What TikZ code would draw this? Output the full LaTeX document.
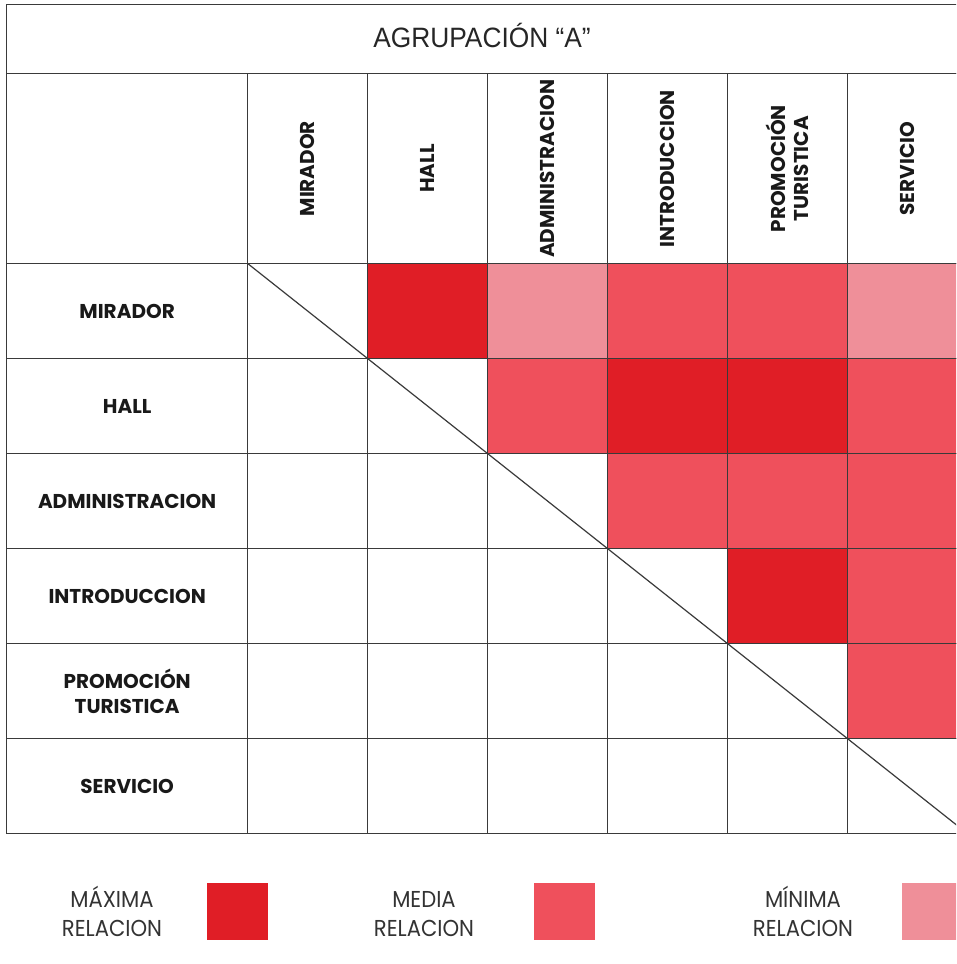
\documentclass[tikz,border=0pt]{standalone}
\usepackage{fontspec}
\newfontfamily\labfont{Poppins}
\newfontfamily\titlefont{Liberation Sans}[FakeStretch=0.94]
\newfontfamily\legfont{Poppins}[FakeStretch=0.92]
\definecolor{maxr}{HTML}{E01E26}
\definecolor{medr}{HTML}{EF505C}
\definecolor{minr}{HTML}{EF8F99}
\definecolor{gridc}{HTML}{3A3A3A}
\tikzset{
  cell/.style={draw=gridc, line width=1.3pt, minimum width=120pt, minimum height=95pt, inner sep=0pt, anchor=north west},
  rowlab/.style={draw=gridc, line width=1.3pt, minimum width=241pt, minimum height=95pt, inner sep=0pt, anchor=north west, font=\labfont\bfseries\fontsize{20}{25}\selectfont, align=center, text=black!90},
  collab/.style={draw=gridc, line width=1.3pt, minimum width=120pt, minimum height=190pt, inner sep=0pt, anchor=north west},
  coltext/.style={rotate=90, font=\labfont\bfseries\fontsize{20}{23}\selectfont, align=center, text=black!90},
  legtext/.style={font=\legfont\fontsize{23}{29}\selectfont, align=center, text=black!80},
  legsq/.style={minimum width=61pt, minimum height=57pt, inner sep=0pt, anchor=north west}
}
\begin{document}
\begin{tikzpicture}[x=1pt,y=-1pt]
\useasboundingbox (0,0) rectangle (956,964);
\fill[white] (0,0) rectangle (956,964);
\clip (0,0) rectangle (956,964);
% title
\node[draw=gridc, line width=1.3pt, minimum width=961pt, minimum height=69pt, inner sep=0pt, anchor=north west] (title) at (6,4) {};
\node[font=\titlefont\fontsize{28}{30}\selectfont, text=black!85] (titletext) at (482,35) {AGRUPACIÓN “A”};
% header corner
\node[draw=gridc, line width=1.3pt, minimum width=241pt, minimum height=190pt, inner sep=0pt, anchor=north west] (corner) at (6,73) {};
% column headers
\foreach \i/\t in {1/MIRADOR,2/HALL,3/ADMINISTRACION,4/INTRODUCCION,5/{PROMOCIÓN\\TURISTICA},6/SERVICIO}{
  \node[collab] (h\i) at ({247+120*(\i-1)},73) {};
  \node[coltext] (ht\i) at (h\i.center) {\t};
}
% row labels
\foreach \j/\t in {1/MIRADOR,2/HALL,3/ADMINISTRACION,4/INTRODUCCION,5/{PROMOCIÓN\\TURISTICA},6/SERVICIO}{
  \node[rowlab] (r\j) at (6,{263+95*(\j-1)}) {\t};
}
% cells
\foreach \j in {1,...,6}{
  \foreach \i in {1,...,6}{
    \node[cell] (c\j\i) at ({247+120*(\i-1)},{263+95*(\j-1)}) {};
  }
}
% coloured cells
\foreach \n/\c in {c12/maxr,c13/minr,c14/medr,c15/medr,c16/minr,
                   c23/medr,c24/maxr,c25/maxr,c26/medr,
                   c34/medr,c35/medr,c36/medr,
                   c45/maxr,c46/medr,
                   c56/medr}{
  \node[cell, fill=\c] at (\n.north west) {};
}
% diagonal
\draw[gridc, line width=1.2pt] (c11.north west) -- (c66.south east);
% legend
\node[legtext] (l1) at (112,911) {MÁXIMA\\RELACION};
\node[legsq, fill=maxr] (s1) at (207,883) {};
\node[legtext] (l2) at (424,911) {\vphantom{Á}MEDIA\\RELACION};
\node[legsq, fill=medr] (s2) at (534,883) {};
\node[legtext] (l3) at (803,911) {MÍNIMA\\RELACION};
\node[legsq, fill=minr] (s3) at (902,883) {};
\end{tikzpicture}
\end{document}
